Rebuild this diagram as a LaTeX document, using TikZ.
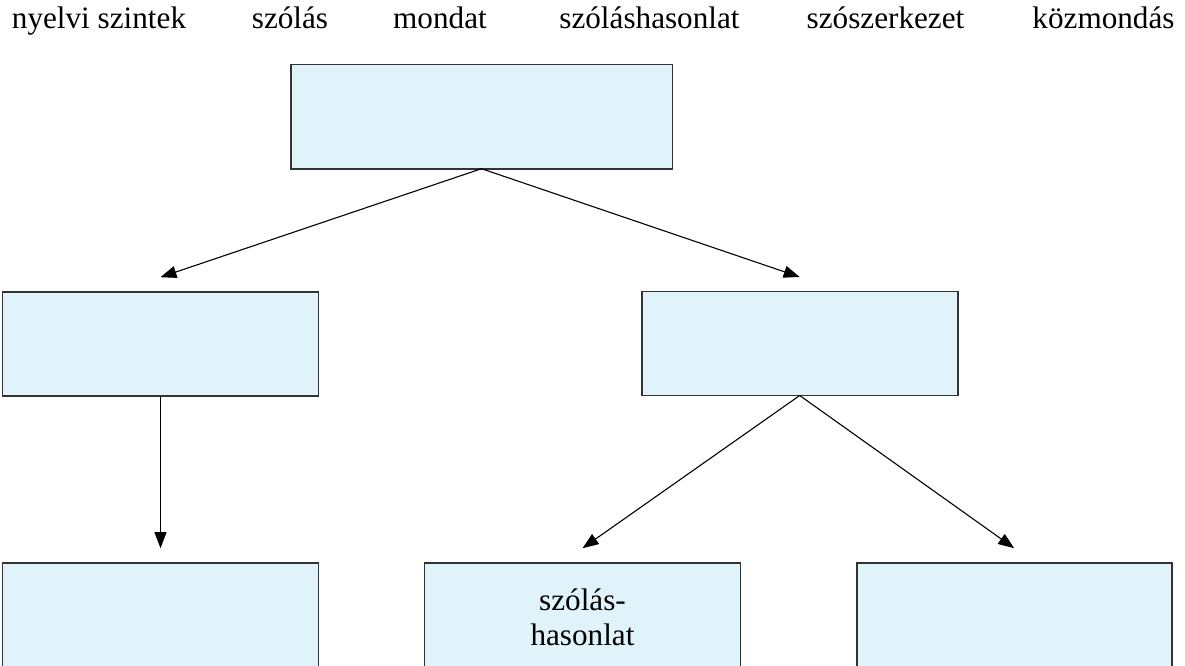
\documentclass[tikz,border=0pt]{standalone}
\usepackage{fontspec}
\setmainfont{Liberation Serif}
\usetikzlibrary{arrows.meta,calc}
\definecolor{boxfill}{HTML}{E0F2FA}
\definecolor{boxline}{HTML}{333333}
\begin{document}
\begin{tikzpicture}[x=1pt,y=-1pt,
  box/.style={draw=boxline,fill=boxfill,line width=1.6pt,inner sep=0pt,outer sep=0pt,
    minimum width=316pt,minimum height=104pt,align=center,font=\fontsize{31.2}{35}\selectfont},
  lowbox/.style={box,minimum height=110pt},
  word/.style={anchor=base,inner sep=0pt,font=\fontsize{31.2}{35}\selectfont},
  arr/.style={draw=black,line width=1.1pt,-{Triangle[length=16pt,width=12pt]}}]
\useasboundingbox (0,0) rectangle (1185,666);
% top labels
\node[word] (w1) at (99,29) {nyelvi szintek};
\node[word] (w2) at (290,29) {szólás};
\node[word] (w3) at (440,29) {mondat};
\node[word] (w4) at (649.5,29) {szóláshasonlat};
\node[word] (w5) at (885.5,29) {szószerkezet};
\node[word] (w6) at (1103.5,29) {közmondás};
% boxes
\node[box,minimum width=381.6pt] (T) at (481.5,116.7) {};
\node[box] (L) at (160.5,343.7) {};
\node[box] (R) at (799.7,343.5) {};
\node[lowbox] (BL) at (160.5,617.7) {};
\node[lowbox] (BM) at (582.5,617.7) {szólás-\\hasonlat};
\node[lowbox,minimum width=315pt] (BR) at (1014.2,617.7) {};
% arrow tips
\coordinate (tL) at ($(L.north)+(0,-14.5)$);
\coordinate (tR) at ($(R.north)+(0,-14.5)$);
\coordinate (tBL) at ($(BL.north)+(0,-14.5)$);
\coordinate (tBM) at ($(BM.north)+(0,-14.5)$);
\coordinate (tBR) at ($(BR.north)+(0,-14.5)$);
% connectors
\draw[arr] (T.south) -- (tL);
\draw[arr] (T.south) -- (tR);
\draw[arr] (L.south) -- (tBL);
\draw[arr] (R.south) -- (tBM);
\draw[arr] (R.south) -- (tBR);
\end{tikzpicture}
\end{document}
